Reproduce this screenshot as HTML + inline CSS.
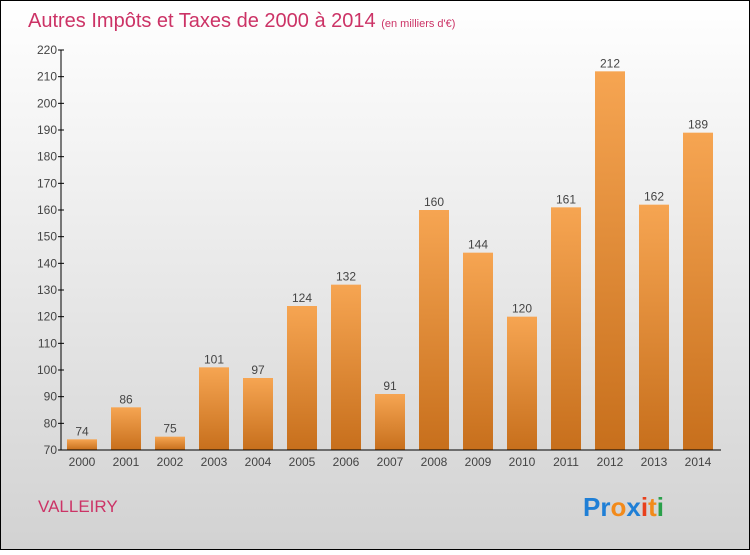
<!DOCTYPE html>
<html><head><meta charset="utf-8"><style>
body{margin:0}
svg text{font-family:"Liberation Sans",sans-serif}
</style></head><body>
<svg width="750" height="550" xmlns="http://www.w3.org/2000/svg">
<defs>
<linearGradient id="bg" x1="0" y1="0" x2="0" y2="1"><stop offset="0" stop-color="#ffffff"/><stop offset="1" stop-color="#d2d2d2"/></linearGradient>
<linearGradient id="bar" x1="0" y1="0" x2="0" y2="1"><stop offset="0" stop-color="#f6a552"/><stop offset="1" stop-color="#c76f1c"/></linearGradient>
</defs>
<rect x="0.5" y="0.5" width="749" height="549" fill="url(#bg)" stroke="#000"/>
<text x="28" y="27" font-size="20" fill="#cc3366">Autres Impôts et Taxes de 2000 à 2014 <tspan font-size="11">(en milliers d'€)</tspan></text>
<g id="plot"></g>
<text x="38" y="512" font-size="17" fill="#cc3366">VALLEIRY</text>
<text x="583" y="516" font-size="26" font-weight="bold"><tspan fill="#1f7fd6">Pr</tspan><tspan fill="#f28a1a">o</tspan><tspan fill="#1f7fd6">x</tspan><tspan fill="#e8401c">i</tspan><tspan fill="#f28a1a">t</tspan><tspan fill="#2aa04a">i</tspan></text>
</svg>
<script>
const categories=["2000","2001","2002","2003","2004","2005","2006","2007","2008","2009","2010","2011","2012","2013","2014"];
const values=[74,86,75,101,97,124,132,91,160,144,120,161,212,162,189];
const yTicks=[70,80,90,100,110,120,130,140,150,160,170,180,190,200,210,220];
const NS="http://www.w3.org/2000/svg";
const g=document.getElementById('plot');
const y0=450,y1=50,vmin=70,vmax=220;
const yS=v=>y0-(v-vmin)*(y0-y1)/(vmax-vmin);
const xS=i=>82+i*44;
function mk(t,a,txt){const e=document.createElementNS(NS,t);for(const k in a)e.setAttribute(k,a[k]);if(txt!==undefined)e.textContent=txt;g.appendChild(e);return e;}
values.forEach((v,i)=>{
 const r=mk('rect',{x:xS(i)-15,y:yS(v),width:30,height:y0-yS(v),fill:'url(#bar)'});
 
 
 const l=mk('text',{x:xS(i),y:yS(v)-4,'font-size':12,fill:'#444','text-anchor':'middle'},String(v));
 
 
 const c=mk('text',{x:xS(i),y:466,'font-size':12,fill:'#444','text-anchor':'middle'},categories[i]);
 
 
});
yTicks.forEach(t=>{
 const ln=mk('line',{x1:58,x2:64,y1:yS(t),y2:yS(t),stroke:'#000'});
 
 
 const tx=mk('text',{x:57,y:yS(t)+4,'font-size':12,fill:'#444','text-anchor':'end'},String(t));
 
 
});
const ya=mk('line',{x1:61,x2:61,y1:y1,y2:y0,stroke:'#000'});


const xa=mk('line',{x1:61,x2:721,y1:y0,y2:y0,stroke:'#000'});


</script>
</body></html>
